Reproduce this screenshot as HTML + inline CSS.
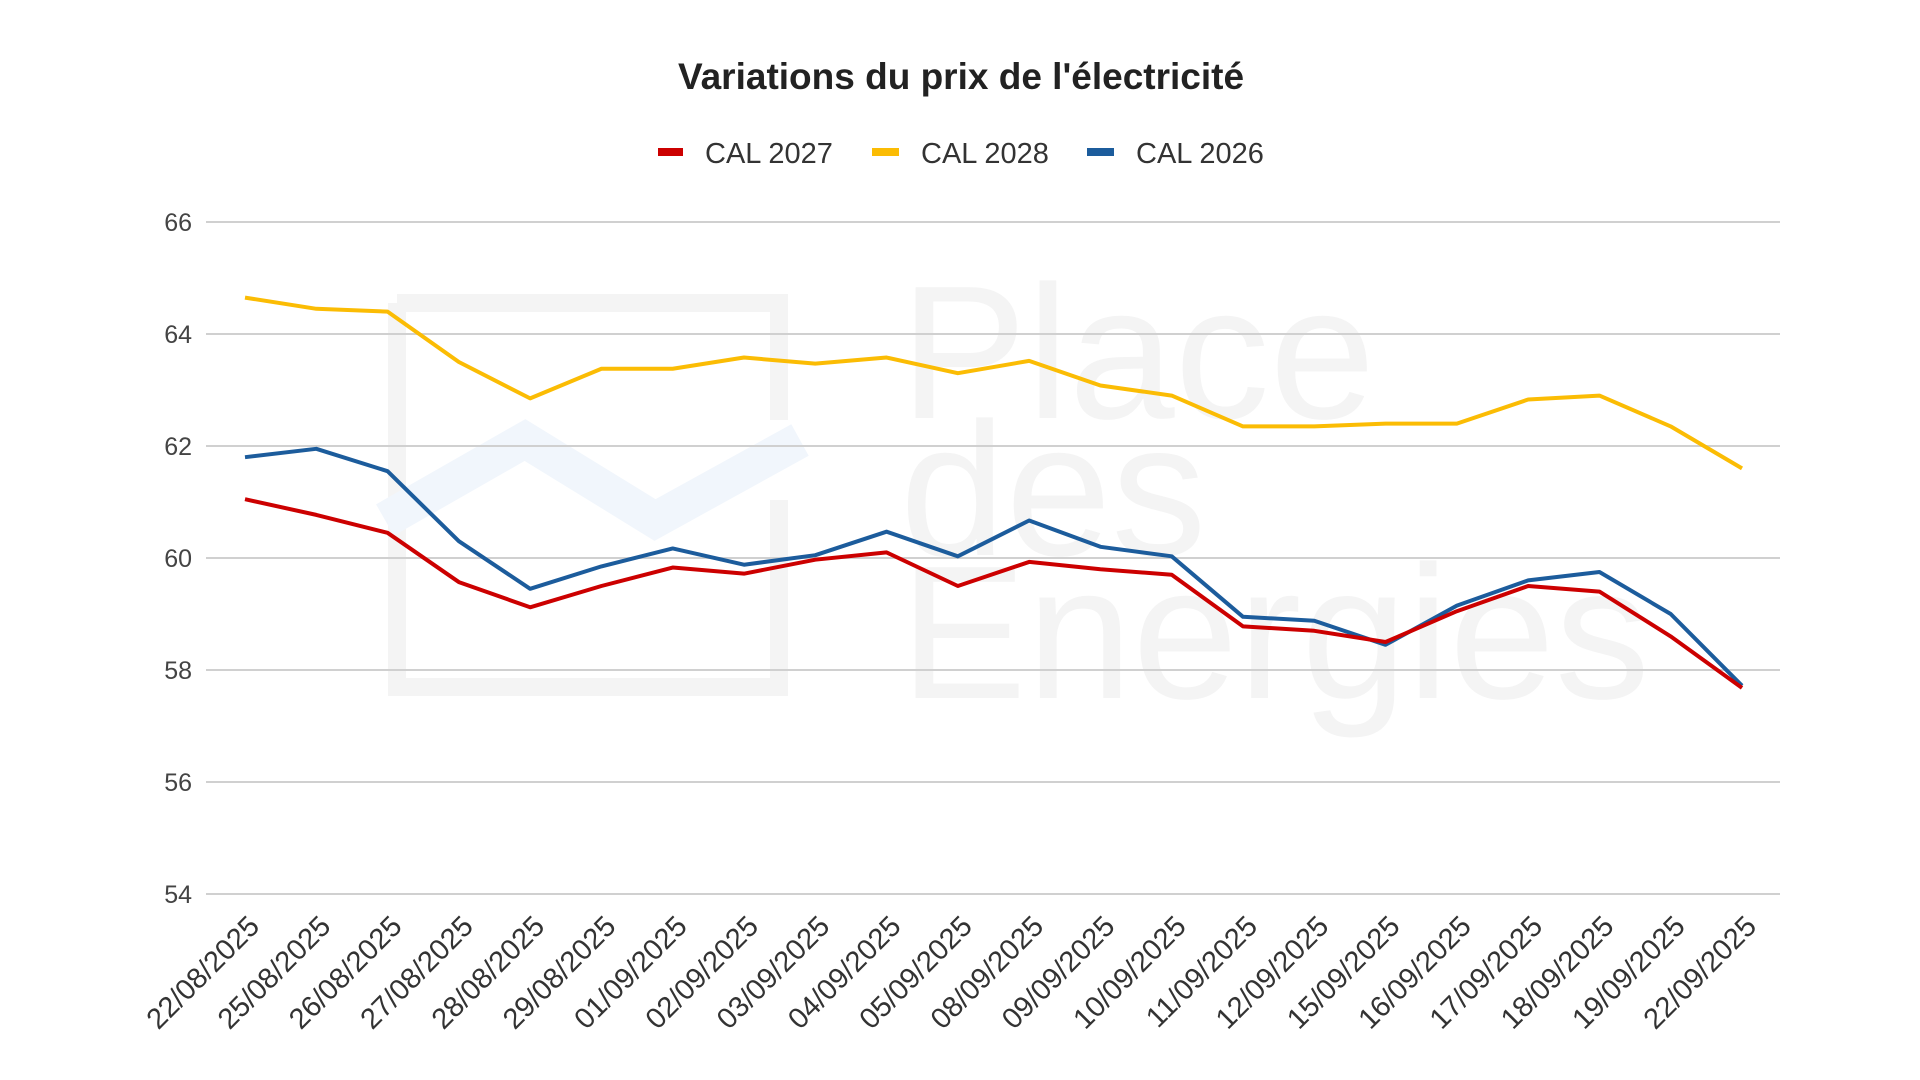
<!DOCTYPE html>
<html><head><meta charset="utf-8"><style>
html,body{margin:0;padding:0;background:#fff;width:1920px;height:1080px;overflow:hidden;font-family:"Liberation Sans",sans-serif;}
</style></head><body>
<svg id="chart" width="1920" height="1080" xmlns="http://www.w3.org/2000/svg">
<g fill="none">
<path d="M397 303 H779 V420 M779 500 V687 H397 V303" stroke="#f4f4f4" stroke-width="18" fill="none"/>
<path d="M385 520 L525 440 L655 520 L800 440" stroke="#f1f6fc" stroke-width="36" fill="none"/>
<text x="900" y="418" font-size="190" fill="#f4f4f4" font-family="Liberation Sans">Place</text>
<text x="900" y="555" font-size="190" fill="#f4f4f4" font-family="Liberation Sans">des</text>
<text x="900" y="698" font-size="190" fill="#f4f4f4" font-family="Liberation Sans">Energies</text>
</g>
<text x="961" y="89" text-anchor="middle" font-size="37" font-weight="bold" fill="#222">Variations du prix de l'électricité</text>
<g font-size="29" fill="#333">
<g><rect x="658" y="148" width="25" height="8" fill="#cc0000"/><text x="705" y="163">CAL 2027</text></g>
<g><rect x="872" y="148" width="27" height="8" fill="#fbbc04"/><text x="921" y="163">CAL 2028</text></g>
<g><rect x="1087" y="148" width="27" height="8" fill="#1c5c9c"/><text x="1136" y="163">CAL 2026</text></g>
</g>
<g id="grid"></g><g id="ylabels"></g><g id="xlabels"></g><g id="series"></g>
</svg>
<script>
const categories=["22/08/2025","25/08/2025","26/08/2025","27/08/2025","28/08/2025","29/08/2025","01/09/2025","02/09/2025","03/09/2025","04/09/2025","05/09/2025","08/09/2025","09/09/2025","10/09/2025","11/09/2025","12/09/2025","15/09/2025","16/09/2025","17/09/2025","18/09/2025","19/09/2025","22/09/2025"];
const cal2028=[64.65,64.45,64.4,63.5,62.85,63.38,63.38,63.58,63.47,63.58,63.3,63.52,63.08,62.9,62.35,62.35,62.4,62.4,62.83,62.9,62.35,61.6];
const cal2026=[61.8,61.95,61.55,60.3,59.45,59.85,60.17,59.88,60.05,60.47,60.03,60.67,60.2,60.03,58.95,58.88,58.45,59.15,59.6,59.75,59.0,57.72];
const cal2027=[61.05,60.77,60.45,59.57,59.12,59.5,59.83,59.72,59.97,60.1,59.5,59.93,59.8,59.7,58.78,58.7,58.5,59.05,59.5,59.4,58.6,57.68];
const yTicks=[54,56,58,60,62,64,66];
const NS="http://www.w3.org/2000/svg";
const x0=245,x1=1742,yMin=54,yMax=66,yTop=222,yBot=894;
function xs(i){return x0+(x1-x0)*i/(categories.length-1);}
function ys(v){return yBot-(v-yMin)/(yMax-yMin)*(yBot-yTop);}
function mk(t,a,p){const e=document.createElementNS(NS,t);for(const k in a)e.setAttribute(k,a[k]);p.appendChild(e);return e;}
const grid=document.getElementById('grid'),yl=document.getElementById('ylabels'),xl=document.getElementById('xlabels'),se=document.getElementById('series');
yTicks.forEach(v=>{
 const l=mk('line',{x1:206,x2:1780,y1:ys(v),y2:ys(v),stroke:'#d0d0d0','stroke-width':2},grid);
 
 
 const t=mk('text',{x:192,y:ys(v)+9,'text-anchor':'end','font-size':25,fill:'#444'},yl);
 t.textContent=v;
 
 
});
categories.forEach((c,i)=>{
 const x=xs(i)+16,y=928;
 const t=mk('text',{x:x,y:y,'text-anchor':'end','font-size':29,fill:'#333',transform:`rotate(-45 ${x} ${y})`},xl);
 t.textContent=c;
 
 
});
[[cal2028,'#fbbc04','cal-2028'],[cal2026,'#1c5c9c','cal-2026'],[cal2027,'#cc0000','cal-2027']].forEach(([d,col,n])=>{
 const p=mk('polyline',{points:d.map((v,i)=>xs(i)+','+ys(v)).join(' '),fill:'none',stroke:col,'stroke-width':4,'stroke-linejoin':'round'},se);
 
 
});
</script>
</body></html>
